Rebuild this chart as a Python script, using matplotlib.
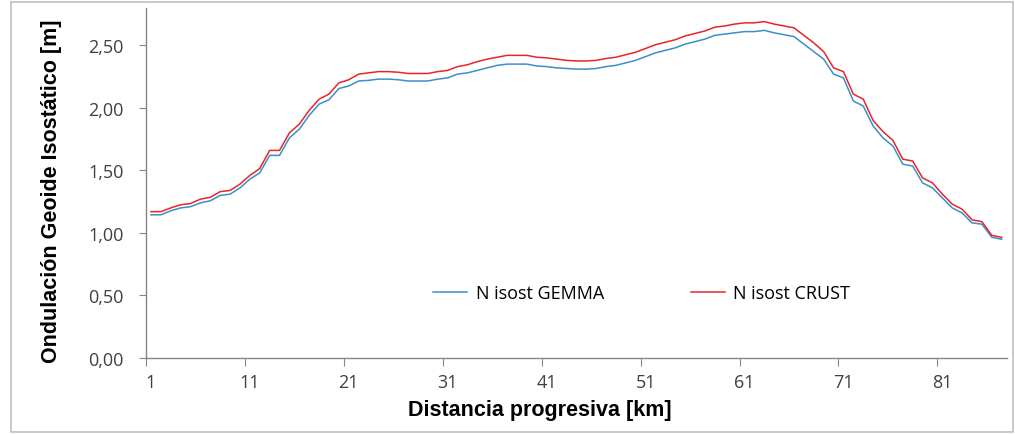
import numpy as np
import matplotlib
matplotlib.use('Agg')
import matplotlib.pyplot as plt
from matplotlib.patches import Rectangle
from matplotlib.ticker import FuncFormatter

# km marks along the profile (one value per category)
km = np.arange(1, 88)

gemma = [1.145, 1.145, 1.177, 1.20, 1.21, 1.24, 1.257, 1.30, 1.31, 1.36,
         1.43, 1.48, 1.62, 1.62, 1.76, 1.83, 1.94, 2.03, 2.065, 2.155,
         2.175, 2.215, 2.22, 2.23, 2.23, 2.225, 2.215, 2.215, 2.215, 2.23,
         2.24, 2.27, 2.28, 2.30, 2.32, 2.34, 2.35, 2.35, 2.35, 2.335,
         2.33, 2.32, 2.315, 2.31, 2.31, 2.315, 2.33, 2.34, 2.36, 2.38,
         2.41, 2.44, 2.46, 2.48, 2.51, 2.53, 2.55, 2.58, 2.59, 2.60,
         2.61, 2.61, 2.62, 2.60, 2.585, 2.57, 2.51, 2.45, 2.39, 2.27,
         2.24, 2.055, 2.015, 1.855, 1.76, 1.695, 1.55, 1.535, 1.40, 1.36,
         1.28, 1.20, 1.16, 1.08, 1.07, 0.965, 0.95]

crust = [1.17, 1.17, 1.20, 1.225, 1.235, 1.27, 1.285, 1.33, 1.34, 1.39,
         1.46, 1.515, 1.66, 1.66, 1.80, 1.87, 1.98, 2.07, 2.11, 2.20,
         2.225, 2.27, 2.28, 2.29, 2.29, 2.285, 2.275, 2.275, 2.275, 2.29,
         2.30, 2.33, 2.345, 2.37, 2.39, 2.405, 2.42, 2.42, 2.42, 2.405,
         2.40, 2.39, 2.38, 2.375, 2.375, 2.38, 2.395, 2.405, 2.425, 2.445,
         2.475, 2.505, 2.525, 2.545, 2.575, 2.595, 2.615, 2.645, 2.655, 2.67,
         2.68, 2.68, 2.69, 2.67, 2.655, 2.64, 2.58, 2.52, 2.45, 2.32,
         2.29, 2.11, 2.07, 1.90, 1.81, 1.74, 1.59, 1.575, 1.44, 1.40,
         1.31, 1.23, 1.19, 1.105, 1.09, 0.98, 0.965]

xlabels = [1, 11, 21, 31, 41, 51, 61, 71, 81]
yticks = [0, 0.5, 1.0, 1.5, 2.0, 2.5]

fig = plt.figure(figsize=(10.15, 4.35), dpi=100)
ax = fig.add_axes([0.1438, 0.1747, 0.848, 0.805])

ax.plot(km, gemma, color='#3B8FC9', lw=1.1, label='N isost GEMMA')
ax.plot(km, crust, color='#E5262B', lw=1.1, label='N isost CRUST')

ax.set_xlim(0.5, len(km) + 0.5)
ax.set_ylim(0, 2.8)

for s in ['top', 'right']:
    ax.spines[s].set_visible(False)
for s in ['left', 'bottom']:
    ax.spines[s].set_color('#868686')
    ax.spines[s].set_linewidth(1.0)

# category axis: tick marks between categories, labels on centres
ax.set_xticks([k - 0.5 for k in xlabels])
ax.set_xticklabels([])
ax.set_xticks(xlabels, minor=True)
ax.set_xticklabels([str(v) for v in xlabels], minor=True,
                   fontfamily='Open Sans', fontsize=13, color='#404040')
ax.tick_params(axis='x', which='major', length=6, color='#868686', direction='out')
ax.tick_params(axis='x', which='minor', length=0, pad=11)

ax.set_yticks(yticks)
ax.yaxis.set_major_formatter(FuncFormatter(lambda v, p: ('%.2f' % v).replace('.', ',')))
ax.tick_params(axis='y', length=5, color='#868686', direction='out', pad=11,
               labelsize=13, labelcolor='#404040')
for t in ax.get_yticklabels():
    t.set_fontfamily('Open Sans')

ax.set_xlabel('Distancia progresiva [km]', fontsize=15.5, fontweight='bold',
              fontfamily='Liberation Sans')
ax.xaxis.set_label_coords(0.458, -0.117)
ax.set_ylabel('Ondulación Geoide Isostático [m]', fontsize=15.5, fontweight='bold',
              fontfamily='Liberation Sans')
ax.yaxis.set_label_coords(-0.0976, 0.48)

fig.legend(loc='center', bbox_to_anchor=(0.632, 0.324), ncol=2, frameon=False,
           prop={'family': 'Open Sans', 'size': 13}, handlelength=1.9,
           columnspacing=4.8, handletextpad=0.45)

fig.patches.append(Rectangle((11 / 1015, 2 / 435), 1002 / 1015, 430 / 435,
                             transform=fig.transFigure, fill=False,
                             edgecolor='#BFBFBF', lw=1.2))

fig.savefig('out.png', dpi=100)
